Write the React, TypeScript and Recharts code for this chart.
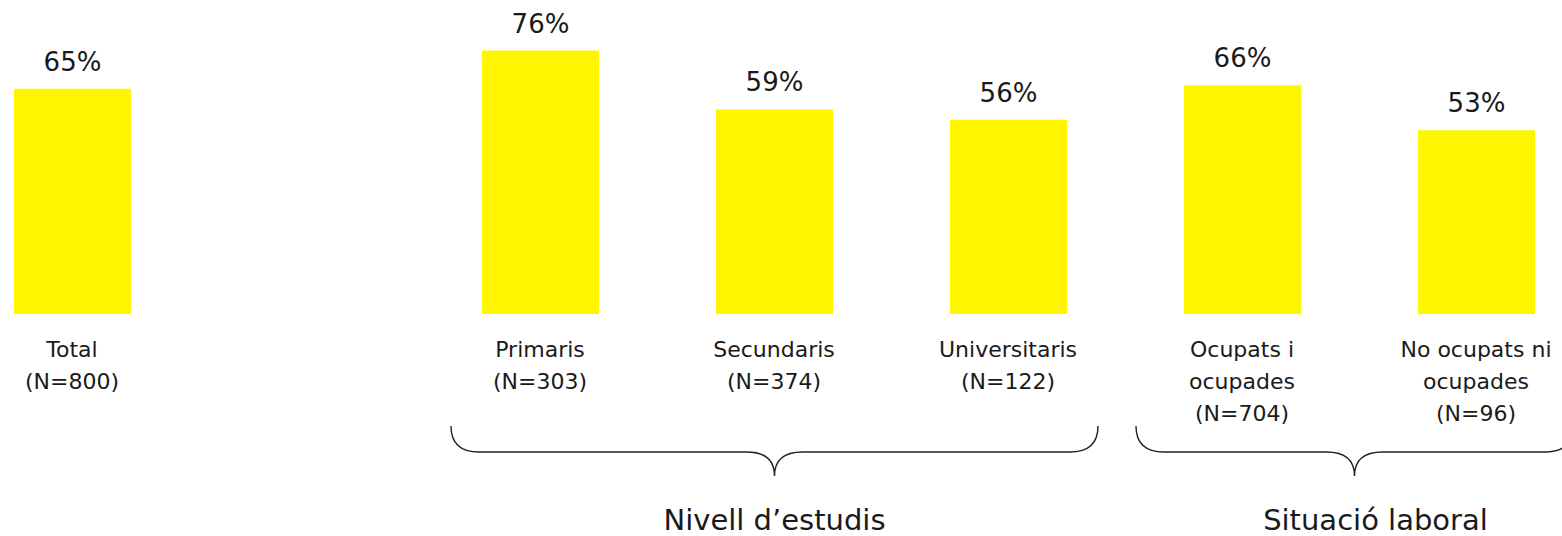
import React from 'react'
import { BarChart, Bar, XAxis, YAxis, LabelList } from 'recharts'

const categories = ['Total', ' ', 'Primaris', 'Secundaris', 'Universitaris', 'Ocupats i ocupades', 'No ocupats ni ocupades']
const tickLines = [
  ['Total', '(N=800)'],
  [],
  ['Primaris', '(N=303)'],
  ['Secundaris', '(N=374)'],
  ['Universitaris', '(N=122)'],
  ['Ocupats i', 'ocupades', '(N=704)'],
  ['No ocupats ni', 'ocupades', '(N=96)'],
]
const values = [65, null, 76, 59, 56, 66, 53]

const groupNames = ["Nivell d\u2019estudis", 'Situació laboral']
const groupRanges = [[2, 4], [5, 6]]

const data = categories.map((name, i) => ({ name, value: values[i] }))

const FONT = '"Century Gothic", "DejaVu Sans", sans-serif'
const CHART_W = 1638
const CHART_H = 536
const SHIFT = -45
const SLOT = CHART_W / categories.length

const CategoryTick = (props: any) => {
  const { x, y, index } = props
  const lines = tickLines[index] || []
  return (
    <g>
      {lines.map((t, k) => (
        <text key={k} x={x} y={y + 43 + k * 32} textAnchor="middle" fontSize={22} fontFamily={FONT} fill="#1a1a1a">
          {t}
        </text>
      ))}
    </g>
  )
}

// curly brace under a group of categories
const brace = (x0: number, x1: number, cx: number) => {
  const top = 426
  const mid = 452
  const tip = 476
  const r = 28
  return `M ${x0} ${top} Q ${x0} ${mid} ${x0 + r} ${mid} L ${cx - r} ${mid} Q ${cx} ${mid} ${cx} ${tip} ` +
    `Q ${cx} ${mid} ${cx + r} ${mid} L ${x1 - r} ${mid} Q ${x1} ${mid} ${x1} ${top}`
}

export default function App() {
  const braces = groupRanges.map(([a, b], i) => {
    const left = SHIFT + a * SLOT
    const right = SHIFT + (b + 1) * SLOT
    const x0 = i === 0 ? left + 28 : left + 11
    const x1 = i === 0 ? right - 27 : right - 20
    const cx = (x0 + x1) / 2
    return { x0, x1, cx, label: groupNames[i], lx: i === 0 ? cx : cx + 21 }
  })

  return (
    <div style={{ position: 'absolute', left: 0, top: 0, width: 1562, height: 536, overflow: 'hidden', background: '#fff' }}>
      <div style={{ position: 'absolute', left: SHIFT, top: 0 }}>
        <BarChart width={CHART_W} height={CHART_H} data={data} margin={{ top: 2, right: 0, left: 0, bottom: 0 }}>
          <XAxis dataKey="name" height={222} interval={0} axisLine={false} tickLine={false} tickSize={0} tickMargin={0} tick={<CategoryTick />} />
          <YAxis hide domain={[0, 90]} />
          <Bar dataKey="value" fill="#FFF500" barSize={117} isAnimationActive={false}>
            <LabelList dataKey="value" position="top" offset={18} formatter={(v: any) => (v == null ? '' : `${v}%`)}
              style={{ fontSize: 26, fontFamily: FONT, fill: '#1a1a1a' }} />
          </Bar>
        </BarChart>
      </div>
      <svg width={1562} height={536} style={{ position: 'absolute', left: 0, top: 0, pointerEvents: 'none' }}>
        {braces.map((b, i) => (
          <g key={i}>
            <path d={brace(b.x0, b.x1, b.cx)} fill="none" stroke="#222" strokeWidth={1.4} />
            <text x={b.lx} y={530} textAnchor="middle" fontSize={29} fontFamily={FONT} fill="#1a1a1a">{b.label}</text>
          </g>
        ))}
      </svg>
    </div>
  )
}
